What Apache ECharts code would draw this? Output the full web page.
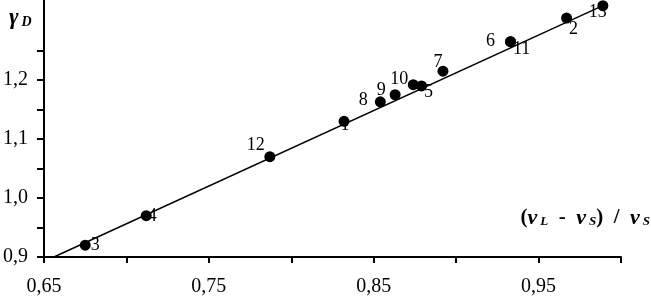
<!DOCTYPE html>
<html>
<head>
<meta charset="utf-8">
<script src="https://cdn.jsdelivr.net/npm/echarts@6/dist/echarts.min.js"></script>
<style>
    html, body { margin: 0; padding: 0; background: #fff; }
    #chart { width: 651px; height: 299px; }
</style>
</head>
<body>
<div id="chart"></div>
<script>
// sample numbers and measured values
var pointNames = ['1', '2', '3', '4', '5', '6', '7', '8', '9', '10', '11', '12', '13']
var ratioX = [0.832, 0.967, 0.675, 0.712, 0.879, 0.933, 0.892, 0.854, 0.863, 0.874, 0.933, 0.787, 0.989]
var gammaD = [1.13, 1.305, 0.92, 0.97, 1.19, 1.265, 1.215, 1.163, 1.175, 1.192, 1.265, 1.07, 1.326]

// linear fit drawn through the points
var fitX = [0.656, 0.989]
var fitY = [0.9, 1.326]

// axis ticks and labels
var xTicks = [0.65, 0.70, 0.75, 0.80, 0.85, 0.90, 0.95, 1.00]
var xLabels = [0.65, 0.75, 0.85, 0.95]
var yTicks = [0.9, 0.95, 1.0, 1.05, 1.1, 1.15, 1.2, 1.25]
var yLabels = [0.9, 1.0, 1.1, 1.2]

// where each number sits next to its dot (pixels)
var labelOffsets = {
    '1': [1, 4], '2': [7, 11], '3': [10, 0], '4': [6, 1], '5': [7, 6],
    '6': [-20, 0], '7': [-5, -9], '8': [-17, -2], '9': [-14, -4],
    '10': [-14, -5], '11': [11, 8], '12': [-14, -11], '13': [-5, 7]
}

var serif = '"Liberation Serif", "Times New Roman", serif'

var points = pointNames.map(function (name, i) {
    return {
        value: [ratioX[i], gammaD[i]],
        label: {
            show: true,
            position: 'inside',
            offset: labelOffsets[name],
            formatter: name
        }
    }
})

var option = {
    animation: false,
    grid: { left: 43, right: 30, top: 0, bottom: 42 },
    xAxis: {
        type: 'value',
        min: 0.65,
        max: 1.0,
        splitLine: { show: false },
        axisLine: { lineStyle: { color: '#000', width: 2 } },
        axisTick: {
            customValues: xTicks,
            length: 6,
            lineStyle: { color: '#000', width: 2 }
        },
        axisLabel: {
            customValues: xLabels,
            margin: 20,
            color: '#000',
            fontFamily: serif,
            fontSize: 20,
            formatter: function (v) { return v.toFixed(2).replace('.', ',') }
        }
    },
    yAxis: {
        type: 'value',
        min: 0.9,
        max: 1.3356,
        splitLine: { show: false },
        axisLine: { lineStyle: { color: '#000', width: 2 } },
        axisTick: {
            customValues: yTicks,
            length: 7,
            lineStyle: { color: '#000', width: 2 }
        },
        axisLabel: {
            customValues: yLabels,
            margin: 16,
            color: '#000',
            fontFamily: serif,
            fontSize: 20,
            formatter: function (v) { return v.toFixed(1).replace('.', ',') }
        }
    },
    series: [
        {
            type: 'line',
            data: fitX.map(function (x, i) { return [x, fitY[i]] }),
            showSymbol: false,
            lineStyle: { color: '#000', width: 1.5 },
            z: 1
        },
        {
            type: 'scatter',
            data: points,
            symbol: 'circle',
            symbolSize: 11,
            clip: false,
            itemStyle: { color: '#000', opacity: 1 },
            label: {
                color: '#000',
                fontFamily: serif,
                fontSize: 18
            },
            z: 2
        }
    ],
    graphic: [
        {
            type: 'text',
            left: 9,
            top: 7,
            style: {
                text: '{g|γ}{s|D}',
                rich: {
                    g: { fontFamily: serif, fontSize: 23, fontWeight: 'bold', fontStyle: 'italic', fill: '#000' },
                    s: { fontFamily: serif, fontSize: 14, fontWeight: 'bold', fontStyle: 'italic', fill: '#000', padding: [7, 0, 0, 3] }
                }
            }
        },
        {
            type: 'text',
            right: 1,
            top: 207,
            style: {
                text: '{p|(}{v|ν}{s|L}{p|  -  }{v|ν}{s|S}{p|)  /  }{v|ν}{s|S}',
                rich: {
                    p: { fontFamily: serif, fontSize: 21, fontWeight: 'bold', fill: '#000' },
                    v: { fontFamily: serif, fontSize: 22, fontWeight: 'bold', fontStyle: 'italic', fill: '#000' },
                    s: { fontFamily: serif, fontSize: 13, fontWeight: 'bold', fontStyle: 'italic', fill: '#000', padding: [8, 0, 0, 3] }
                }
            }
        }
    ]
}

var chart = echarts.init(document.getElementById('chart'))
chart.setOption(option)
</script>
</body>
</html>
